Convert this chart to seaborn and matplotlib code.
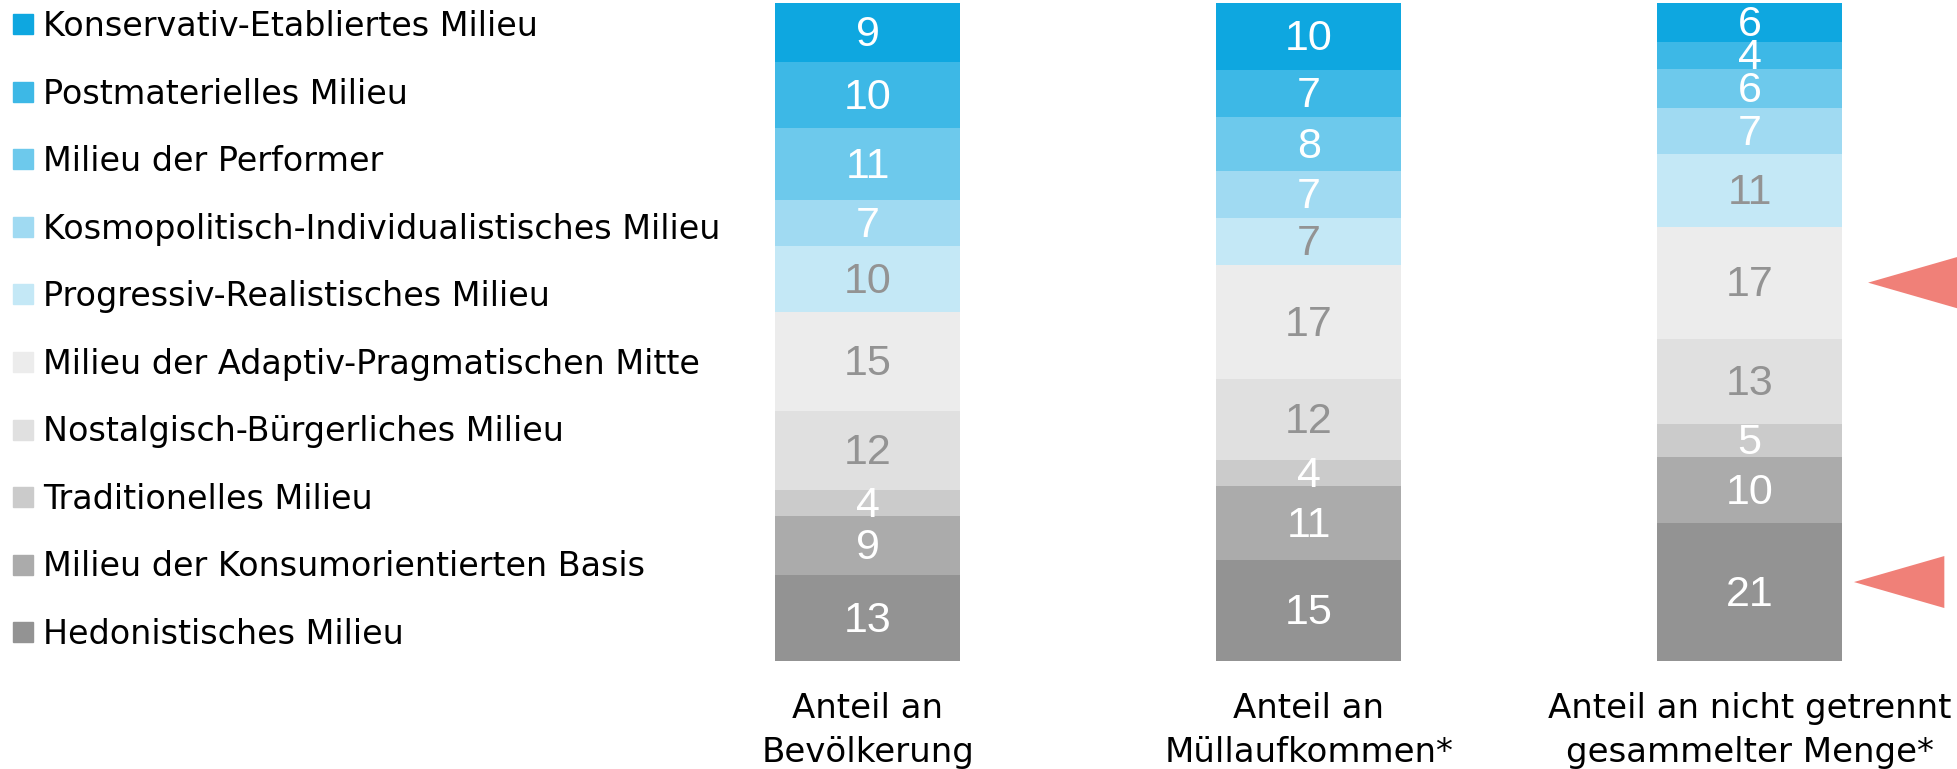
import pandas as pd
import numpy as np
import matplotlib.pyplot as plt
import seaborn as sns
from matplotlib.lines import Line2D

# milieus, top of the stack first
milieus = ['Konservativ-Etabliertes Milieu', 'Postmaterielles Milieu', 'Milieu der Performer',
           'Kosmopolitisch-Individualistisches Milieu', 'Progressiv-Realistisches Milieu',
           'Milieu der Adaptiv-Pragmatischen Mitte', 'Nostalgisch-Bürgerliches Milieu',
           'Traditionelles Milieu', 'Milieu der Konsumorientierten Basis', 'Hedonistisches Milieu']
colors = ['#0ea7e0', '#3db8e6', '#6dc9ec', '#a0daf2', '#c4e8f6',
          '#ececec', '#e0e0e0', '#cbcbcb', '#ababab', '#939393']
text_colors = ['white', 'white', 'white', 'white', '#939393',
               '#939393', '#939393', 'white', 'white', 'white']

columns = ['Anteil an\nBevölkerung', 'Anteil an\nMüllaufkommen*',
           'Anteil an nicht getrennt\ngesammelter Menge*']
bevoelkerung = [9, 10, 11, 7, 10, 15, 12, 4, 9, 13]
muell = [10, 7, 8, 7, 7, 17, 12, 4, 11, 15]
nicht_getrennt = [6, 4, 6, 7, 11, 17, 13, 5, 10, 21]

df = pd.DataFrame({columns[0]: bevoelkerung, columns[1]: muell, columns[2]: nicht_getrennt},
                  index=milieus)
# bars are shown as full 100% stacks
shares = df / df.sum() * 100
# cumulative top of each segment (stack builds from the bottom)
tops = shares[::-1].cumsum()[::-1]
bottoms = tops - shares

sns.set_theme(style='white')
plt.rcParams['font.family'] = ['DejaVu Sans']

fig = plt.figure(figsize=(19.58, 7.69), dpi=100)
ax = fig.add_axes([0, 108 / 769, 1, 658 / 769])

# draw tallest first so each shorter one lies on top
for m, c in zip(milieus, colors):
    sns.barplot(x=columns, y=tops.loc[m].values, color=c, saturation=1, width=0.42,
                linewidth=0, ax=ax, order=columns)

for i, col in enumerate(columns):
    for j, m in enumerate(milieus):
        y = bottoms.loc[m, col] + shares.loc[m, col] / 2
        ax.text(i, y - 0.4, str(df.loc[m, col]), ha='center', va='center', fontsize=31,
                color=text_colors[j], family=['Liberation Sans', 'DejaVu Sans'])

# red pointer triangles on the third bar
for m in ['Milieu der Adaptiv-Pragmatischen Mitte', 'Hedonistisches Milieu']:
    yc = bottoms.loc[m, columns[2]] + shares.loc[m, columns[2]] / 2
    if m == 'Hedonistisches Milieu':
        yc += 1.5
        x0 = 2.237
    else:
        x0 = 2.269
    ax.fill([x0, x0 + 0.205, x0 + 0.205], [yc, yc + 3.95, yc - 3.95], color='#f08078', lw=0)

ax.set_xlim(-1.969, 2.473)
ax.set_ylim(0, 100)
ax.set_yticks([])
ax.set_xlabel('')
ax.set_ylabel('')
ax.tick_params(axis='x', length=0, pad=22, labelsize=24.5)
for lbl in ax.get_xticklabels():
    lbl.set_linespacing(1.43)
    lbl.set_color('black')
for s in ax.spines.values():
    s.set_visible(False)

handles = [Line2D([], [], marker='s', linestyle='', markersize=14, color=c) for c in colors]
fig.legend(handles, milieus, loc='upper left', bbox_to_anchor=(13 / 1958, 1 - 10 / 769),
           frameon=False, fontsize=24, handlelength=0.6, handletextpad=0.3,
           labelspacing=1.036, borderpad=0, borderaxespad=0, labelcolor='black')

fig.savefig('out.png', dpi=100)
